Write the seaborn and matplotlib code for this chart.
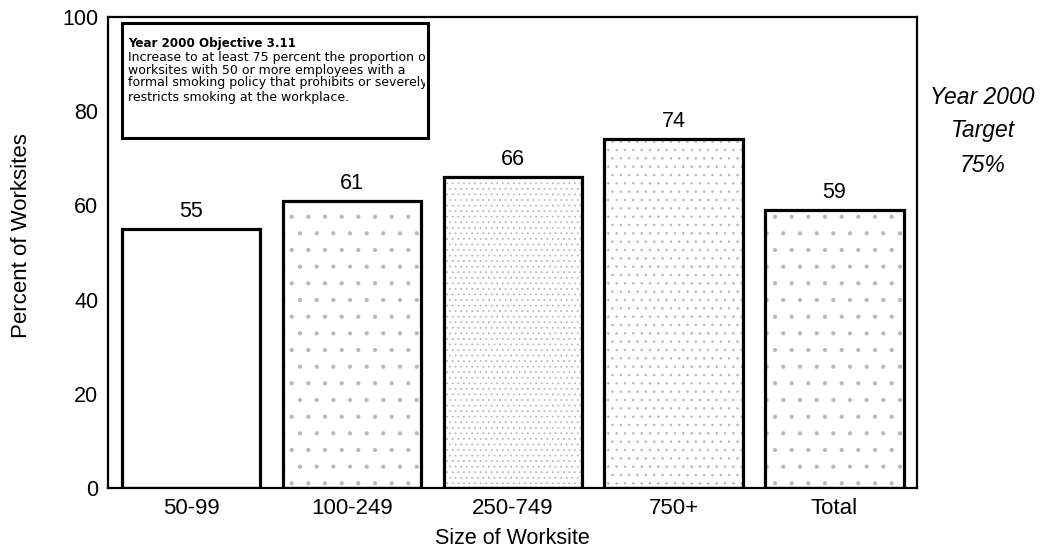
import matplotlib
matplotlib.use("Agg")
import matplotlib.pyplot as plt
import seaborn as sns
import pandas as pd
from matplotlib.patches import Rectangle

categories = ["50-99", "100-249", "250-749", "750+", "Total"]
values = [55, 61, 66, 74, 59]
hatches = ["", ".", "...", "..", "."]
yticks = [0, 20, 40, 60, 80, 100]
box_title = "Year 2000 Objective 3.11"
box_lines = ["Increase to at least 75 percent the proportion of",
             "worksites with 50 or more employees with a",
             "formal smoking policy that prohibits or severely",
             "restricts smoking at the workplace."]
target_lines = ["Year 2000", "Target", "75%"]

sns.set_theme(style="white")
plt.rcParams['font.family'] = ['Liberation Sans', 'DejaVu Sans']
plt.rcParams['hatch.linewidth'] = 0.6
for k in ["text.color", "axes.labelcolor", "xtick.color", "ytick.color"]:
    plt.rcParams[k] = "black"

df = pd.DataFrame({"size": categories, "pct": values})

fig = plt.figure(figsize=(10.42, 5.59), dpi=100)
ax = fig.add_axes([0.1036, 0.127, 0.776, 0.8426])

sns.barplot(data=df, x="size", y="pct", order=categories, color="white",
            edgecolor="#b8b8b8", linewidth=0, width=0.86, ax=ax)
for p, h in zip(ax.patches, hatches):
    p.set_hatch(h)
sns.barplot(data=df, x="size", y="pct", order=categories, fill=False,
            edgecolor="black", linewidth=2.3, width=0.86, ax=ax)

for i, v in enumerate(values):
    ax.text(i, v + 2.55, str(v), ha="center", va="baseline", fontsize=15.5)

ax.set_xlim(-0.516, 4.51)
ax.set_ylim(0, 100)
ax.set_yticks(yticks)
ax.tick_params(axis="y", labelsize=15.5, length=0, pad=7)
ax.tick_params(axis="x", labelsize=16, length=0, pad=7)
ax.set_xlabel("Size of Worksite", fontsize=15.5, labelpad=7)
ax.set_ylabel("Percent of Worksites", fontsize=16)
ax.yaxis.set_label_coords(-0.094, 0.537)
for s in ax.spines.values():
    s.set_color("black")
    s.set_linewidth(1.6)

box_xy = (0.0173, 0.743)
box_w, box_h = 0.379, 0.244
rect = Rectangle(box_xy, box_w, box_h, transform=ax.transAxes,
                 fill=False, edgecolor="black", linewidth=2.2, zorder=5)
ax.add_patch(rect)
clip_rect = Rectangle(box_xy, box_w - 0.004, box_h, transform=ax.transAxes,
                      fill=False, linewidth=0)
ax.add_patch(clip_rect)

ax.text(0.0248, 0.943, box_title, transform=ax.transAxes,
        fontsize=8.6, fontweight="bold", va="center", ha="left",
        family=["DejaVu Sans"])
ys = [0.915, 0.887, 0.860, 0.830]
for line, y in zip(box_lines, ys):
    tt = ax.text(0.0248, y, line, transform=ax.transAxes, fontsize=9.0,
                 va="center", ha="left", family=["DejaVu Sans"])
    tt.set_clip_on(True)
    tt.set_clip_path(clip_rect)

for line, y in zip(target_lines, [0.826, 0.766, 0.704]):
    fig.text(0.943, y, line, ha="center", va="center", fontsize=16.5,
             style="italic")

fig.savefig("out.png", dpi=100)
